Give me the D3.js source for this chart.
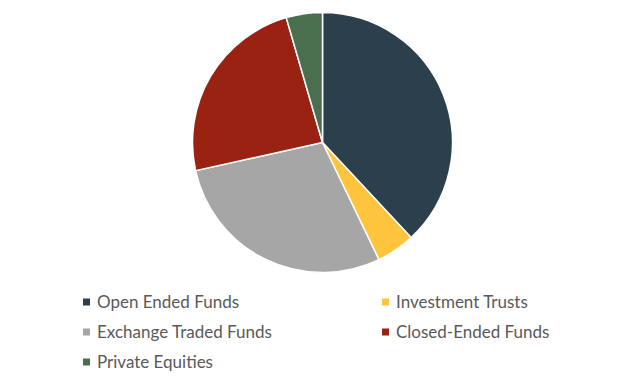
<!DOCTYPE html>
<html>
<head>
<meta charset="utf-8">
<script src="https://cdn.jsdelivr.net/npm/d3@7"></script>
<style>
  body { margin: 0; background: #fff; }
</style>
</head>
<body>
<script>
var categories = ['Open Ended Funds', 'Investment Trusts', 'Exchange Traded Funds', 'Closed-Ended Funds', 'Private Equities'];
var values = [38.1, 4.8, 28.7, 24.0, 4.5];
var colors = ['#2C3F4D', '#FEC43B', '#A6A6A6', '#992212', '#4A6F4F'];

var width = 643;
var height = 384;

var cx = 322.5;
var cy = 142.5;
var radius = 130;

var data = categories.map(function (c, i) {
    return { name: c, value: values[i] };
});

var svg = d3.select('body').append('svg')
    .attr('width', width)
    .attr('height', height);

var col = d3.scaleOrdinal()
    .domain(categories)
    .range(colors);

var pie = d3.pie()
    .sort(null)
    .value(function (d) { return d.value; });

var arc = d3.arc()
    .innerRadius(0)
    .outerRadius(radius);

svg.append('g')
    .attr('transform', 'translate(' + cx + ',' + cy + ')')
    .selectAll('path')
    .data(pie(data))
    .join('path')
    .attr('d', arc)
    .style('fill', function (d) { return col(d.data.name); })
    .style('stroke', '#fff')
    .style('stroke-width', 1.5);

// legend: two columns
var legend = svg.append('g')
    .selectAll('g')
    .data(data)
    .join('g')
    .attr('transform', function (d, i) {
        var x = i % 2 === 0 ? 83 : 382;
        var y = 302 + Math.floor(i / 2) * 30;
        return 'translate(' + x + ',' + y + ')';
    });

legend.append('rect')
    .attr('x', 0)
    .attr('y', -3.5)
    .attr('width', 7)
    .attr('height', 7)
    .style('fill', function (d) { return col(d.name); });

legend.append('text')
    .attr('x', 14)
    .attr('y', 0)
    .attr('dy', '0.36em')
    .style('font-family', 'Lato, "Open Sans", sans-serif')
    .style('font-size', '17px')
    .style('fill', '#595959')
    .text(function (d) { return d.name; });
</script>
</body>
</html>
